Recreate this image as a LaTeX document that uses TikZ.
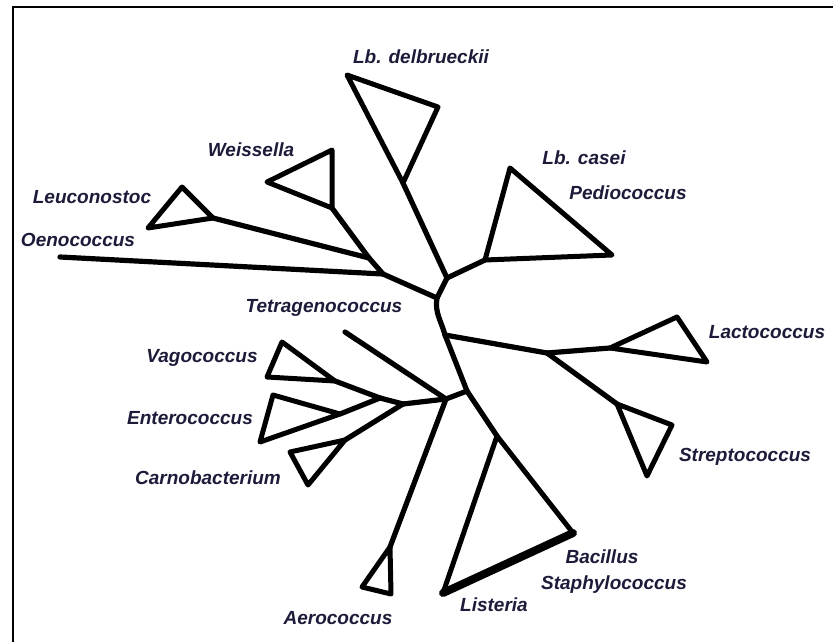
\documentclass[tikz,border=0pt]{standalone}
\usepackage{fontspec}
\setmainfont{Liberation Sans}
\usepackage{tikz}
\usetikzlibrary{positioning}
\usepackage{xcolor}
\definecolor{taxonblue}{RGB}{28,28,58}

\begin{document}
\begin{tikzpicture}[
    x=1pt, y=-1pt,
    branch/.style={line width=5.2pt, line cap=round, line join=round},
    clade/.style={line width=5pt, line join=round},
    taxon/.style={font=\fontsize{19}{19}\selectfont\bfseries\itshape, text=taxonblue, inner sep=0pt},
    frame/.style={line width=2.2pt}
]
\useasboundingbox (0,0) rectangle (833,642);
\draw[frame] (13,642) -- (13,7) -- (833,7);

% inner nodes of the tree
\coordinate (c0) at (447,278);
\coordinate (c1) at (437,298);
\coordinate (m1) at (445,335);
\coordinate (m2) at (467,391);
\coordinate (j1) at (369,258);
\coordinate (j2) at (383,274);
\coordinate (j3) at (446,399);
\coordinate (j4) at (403,404);
\coordinate (j5) at (380,398);
\coordinate (l1) at (547,353);

% collapsed clades
\coordinate (del-a) at (403,183); \coordinate (del-b) at (347,75);  \coordinate (del-c) at (438,107);
\coordinate (cas-a) at (485,260); \coordinate (cas-b) at (510,168); \coordinate (cas-c) at (612,255);
\coordinate (wei-a) at (332,208); \coordinate (wei-b) at (267,182); \coordinate (wei-c) at (332,150);
\coordinate (leu-a) at (213,218); \coordinate (leu-b) at (148,228); \coordinate (leu-c) at (182,187);
\coordinate (vag-a) at (335,381); \coordinate (vag-b) at (267,377); \coordinate (vag-c) at (282,342);
\coordinate (ent-a) at (340,414); \coordinate (ent-b) at (260,442); \coordinate (ent-c) at (273,395);
\coordinate (car-a) at (345,440); \coordinate (car-b) at (308,485); \coordinate (car-c) at (290,452);
\coordinate (aer-a) at (390,547); \coordinate (aer-b) at (362,587); \coordinate (aer-c) at (391,594);
\coordinate (lis-a) at (497,436); \coordinate (lis-b) at (573,533); \coordinate (lis-c) at (443,593);
\coordinate (lac-a) at (610,348); \coordinate (lac-b) at (677,317); \coordinate (lac-c) at (707,362);
\coordinate (str-a) at (617,404); \coordinate (str-b) at (672,425); \coordinate (str-c) at (647,476);
\coordinate (oen) at (60,257);
\coordinate (tet) at (345,332);

\foreach \c in {del,cas,wei,leu,vag,ent,car,aer,lis,lac,str}
  \draw[clade] (\c-a) -- (\c-b) -- (\c-c) -- cycle;
\draw[line width=8pt, line cap=round] (lis-b) -- (lis-c);

\draw[branch] (c0) -- (del-a);
\draw[branch] (c0) -- (cas-a);
\draw[branch] (c0) -- (c1);
\draw[branch] (c1) -- (j2);
\draw[branch] (j2) -- (oen);
\draw[branch] (j2) -- (j1);
\draw[branch] (j1) -- (wei-a);
\draw[branch] (j1) -- (leu-a);
\draw[branch] (c1) to[out=-100,in=105] (m1);
\draw[branch] (m1) -- (l1);
\draw[branch] (l1) -- (lac-a);
\draw[branch] (l1) -- (str-a);
\draw[branch] (m1) -- (m2);
\draw[branch] (m2) -- (lis-a);
\draw[branch] (m2) -- (j3);
\draw[branch] (j3) -- (tet);
\draw[branch] (j3) -- (aer-a);
\draw[branch] (j3) -- (j4);
\draw[branch] (j4) -- (car-a);
\draw[branch] (j4) -- (j5);
\draw[branch] (j5) -- (vag-a);
\draw[branch] (j5) -- (ent-a);

\node[taxon] (ldel) at (421,57) {Lb. delbrueckii};
\node[taxon] (wei) at (251,150) {Weissella};
\node[taxon] (leu) at (92,197) {Leuconostoc};
\node[taxon] (oenl) at (78,240) {Oenococcus};
\node[taxon] (tetl) at (324,308) {Tetragenococcus};
\node[taxon] (lcas) at (584,158) {Lb. casei};
\node[taxon] (ped) at (628,193) {Pediococcus};
\node[taxon] (lac) at (767,332) {Lactococcus};
\node[taxon] (str) at (745,457) {Streptococcus};
\node[taxon] (vag) at (202,358) {Vagococcus};
\node[taxon] (ent) at (190,418) {Enterococcus};
\node[taxon] (car) at (208,478) {Carnobacterium};
\node[taxon] (aer) at (338,618) {Aerococcus};
\node[taxon] (lis) at (494,605) {Listeria};
\node[taxon] (bac) at (602,557) {Bacillus};
\node[taxon] (sta) at (614,585) {Staphylococcus};
\end{tikzpicture}
\end{document}
